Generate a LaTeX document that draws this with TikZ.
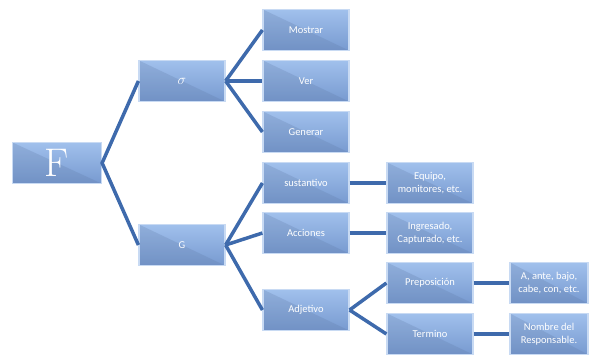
\documentclass[tikz,border=0pt]{standalone}
\usepackage{fontspec}
\setmainfont{Carlito}
\definecolor{azulclaro}{RGB}{160,192,236}
\definecolor{azuloscuro}{RGB}{120,154,208}
\definecolor{borde}{RGB}{200,218,243}
\definecolor{linea}{RGB}{62,106,172}
\tikzset{
  caja/.style={rectangle, minimum width=86pt, minimum height=41pt, inner sep=1pt,
    top color=azulclaro, bottom color=azuloscuro, draw=borde, line width=1.2pt,
    text=white, align=center, font=\fontsize{10.5}{13}\selectfont,
    path picture={\fill[azuloscuro!80!black, opacity=0.25]
      (path picture bounding box.north west) -- (path picture bounding box.south east)
      -- (path picture bounding box.south west) -- cycle;}},
  rama/.style={draw=linea, line width=3.5pt}
}
\begin{document}
\begin{tikzpicture}[x=1pt,y=-1pt]
\useasboundingbox (0,0) rectangle (597,358);
% raiz
\node[caja, minimum width=89pt, font=\fontsize{40}{40}\fontspec{Latin Modern Roman}] (raiz) at (57,163) {F};
% segundo nivel
\node[caja, font=\fontsize{14}{14}\selectfont] (sigma) at (182,81) {$\sigma$};
\node[caja] (ge) at (182,245) {G};
% tercer nivel
\node[caja] (mostrar) at (306,30) {Mostrar};
\node[caja] (ver) at (306,81) {Ver};
\node[caja] (generar) at (306,132) {Generar};
\node[caja] (sustantivo) at (306,183) {sustantivo};
\node[caja] (acciones) at (306,233) {Acciones};
\node[caja] (adjetivo) at (306,310) {Adjetivo};
% cuarto nivel
\node[caja] (equipo) at (430,183) {Equipo,\\monitores, etc.};
\node[caja] (ingresado) at (430,233) {Ingresado,\\Capturado, etc.};
\node[caja] (preposicion) at (430,283) {Preposición};
\node[caja] (termino) at (430,334) {Termino};
% quinto nivel
\node[caja, minimum width=78pt] (ante) at (549,283) {A, ante, bajo,\\cabe, con, etc.};
\node[caja, minimum width=78pt] (nombre) at (549,334) {Nombre del\\Responsable.};
% ramas
\draw[rama] (sigma.west) -- (raiz.east) -- (ge.west);
\draw[rama] (sigma.east) -- (mostrar.west);
\draw[rama] (sigma.east) -- (ver.west);
\draw[rama] (sigma.east) -- (generar.west);
\draw[rama] (ge.east) -- (sustantivo.west);
\draw[rama] (ge.east) -- (acciones.west);
\draw[rama] (ge.east) -- (adjetivo.west);
\draw[rama] (sustantivo.east) -- (equipo.west);
\draw[rama] (acciones.east) -- (ingresado.west);
\draw[rama] (adjetivo.east) -- (preposicion.west);
\draw[rama] (adjetivo.east) -- (termino.west);
\draw[rama] (preposicion.east) -- (ante.west);
\draw[rama] (termino.east) -- (nombre.west);
\end{tikzpicture}
\end{document}
